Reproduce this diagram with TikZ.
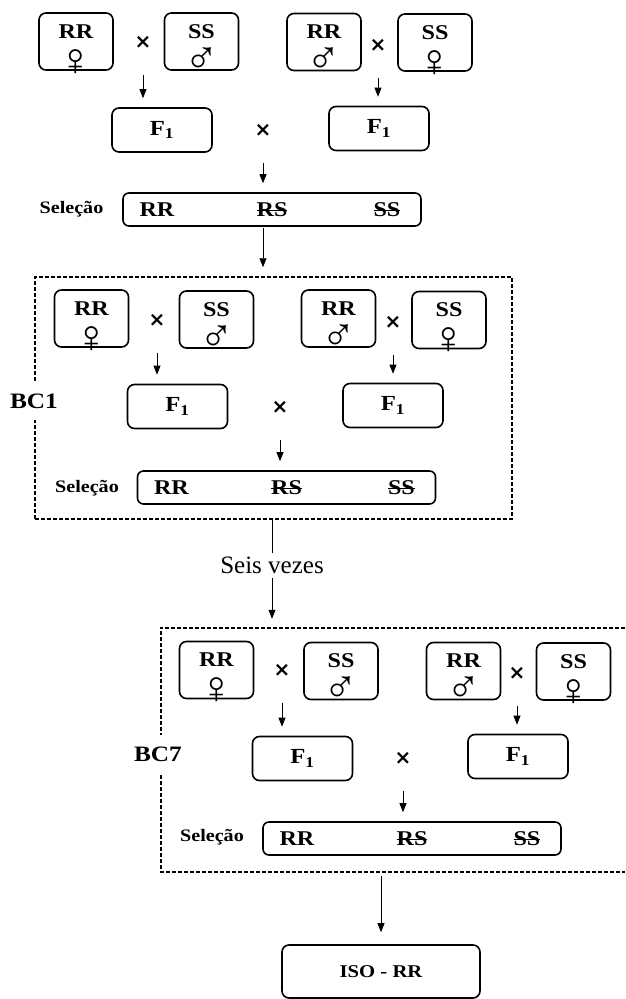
\documentclass[tikz,border=0pt]{standalone}
\usepackage{fontspec}
\usetikzlibrary{arrows.meta}

\setmainfont{Liberation Serif}
\newfontfamily\negrito{Liberation Serif}[FakeStretch=1.15]
\newfontfamily\simbolo{DejaVu Sans}

\newcommand{\femea}{\raisebox{-17pt}[0pt][0pt]{\rmfamily\mdseries\fontsize{46}{46}\selectfont ♀}}
\newcommand{\macho}{\raisebox{-15pt}[0pt][0pt]{\rmfamily\mdseries\fontsize{46}{46}\selectfont ♂}}
\newcommand{\riscado}[1]{\setbox0\hbox{#1}\rlap{\rule[0.25em]{\wd0}{1.3pt}}\box0}
\newcommand{\selecao}{\makebox[0pt]{\makebox[115pt]{RR}\makebox[115pt]{\riscado{RS}}\makebox[115pt]{\riscado{SS}}}}

\tikzset{
  pai/.style={draw, rounded corners=7pt, line width=1.6pt, minimum width=74pt, minimum height=57pt,
    inner sep=0pt, align=center, font=\negrito\bfseries\fontsize{21}{20}\selectfont},
  filho/.style={draw, rounded corners=7pt, line width=1.6pt, minimum width=100pt, minimum height=44pt,
    font=\negrito\bfseries\fontsize{21.5}{22}\selectfont},
  linha/.style={draw, rounded corners=6pt, line width=1.6pt, minimum width=298pt, minimum height=33pt,
    inner sep=0pt, font=\negrito\bfseries\fontsize{21}{22}\selectfont},
  vezes/.style={font=\simbolo\bfseries\fontsize{20}{20}\selectfont},
  rotulo/.style={font=\negrito\bfseries\fontsize{17.5}{18}\selectfont},
  geracao/.style={fill=white, inner xsep=1pt, inner ysep=12pt, font=\negrito\bfseries\fontsize{22}{22}\selectfont},
  tracejado/.style={dash pattern=on 4pt off 2pt, line width=1.5pt},
  flecha/.style={-{Triangle[length=9pt, width=7pt]}, line width=0.8pt, shorten <=23pt, shorten >=9pt},
}

\begin{document}
\begin{tikzpicture}[x=1pt, y=-1pt]
    \useasboundingbox (0,0) rectangle (625,999);

    % First crosses
    \node[pai] (a1) at (76,41.5)    {RR\\\femea};
    \node[vezes] (x1) at (143,42)   {×};
    \node[pai] (b1) at (201.5,41.5) {SS\\\macho};
    \node[pai] (c1) at (324,42)     {RR\\\macho};
    \node[vezes] (y1) at (378,45)   {×};
    \node[pai] (d1) at (435,42.5)   {SS\\\femea};

    \node[filho] (f1) at (162,130)  {F\textsubscript{1}};
    \node[vezes] (z1) at (263,130)  {×};
    \node[filho] (g1) at (379,128.5){F\textsubscript{1}};

    \node[rotulo] (l1) at (71.5,209) {Seleção};
    \node[linha] (s1) at (272,209.5) {\selecao};

    \draw[flecha] (x1) -- (x1 |- f1.north);
    \draw[flecha] (y1) -- (y1 |- g1.north);
    \draw[flecha] (z1) -- (z1 |- s1.north);

    % Backcross 1
    \node[draw, tracejado, minimum width=477pt, minimum height=242pt] (bc1) at (273.5,398) {};
    \node[geracao] (r1) at (34,401) {BC1};
    \draw[flecha, shorten <=1pt] (z1 |- s1.south) -- (z1 |- bc1.north);

    \node[pai] (a2) at (91.5,318.5)  {RR\\\femea};
    \node[vezes] (x2) at (157,320)   {×};
    \node[pai] (b2) at (216.5,319.5) {SS\\\macho};
    \node[pai] (c2) at (338.5,318.5) {RR\\\macho};
    \node[vezes] (y2) at (393,322)   {×};
    \node[pai] (d2) at (449,320)     {SS\\\femea};

    \node[filho] (f2) at (177.5,406.5) {F\textsubscript{1}};
    \node[vezes] (z2) at (280,407)     {×};
    \node[filho] (g2) at (393,405.5)   {F\textsubscript{1}};

    \node[rotulo] (l2) at (87,488)      {Seleção};
    \node[linha] (s2) at (286.5,487.5)  {\selecao};

    \draw[flecha] (x2) -- (x2 |- f2.north);
    \draw[flecha] (y2) -- (y2 |- g2.north);
    \draw[flecha] (z2) -- (z2 |- s2.north);

    % Repeated six times
    \node[font=\fontsize{25}{26}\selectfont] (sv) at (272,565) {Seis vezes};
    \draw[line width=0.8pt] (sv |- bc1.south) -- (sv.north);

    % Backcross 7
    \node[minimum width=464pt, minimum height=244pt] (bc7) at (393,750) {};
    \draw[tracejado] (bc7.north east) -| (bc7.south west) -- (bc7.south east);
    \node[geracao] (r7) at (158,754) {BC7};
    \draw[flecha, shorten <=1pt] (sv.south) -- (sv |- bc7.north);

    \node[pai] (a3) at (216.5,670)   {RR\\\femea};
    \node[vezes] (x3) at (282,670)   {×};
    \node[pai] (b3) at (341,671)     {SS\\\macho};
    \node[pai] (c3) at (463.5,671)   {RR\\\macho};
    \node[vezes] (y3) at (517,673)   {×};
    \node[pai] (d3) at (573.5,671.5) {SS\\\femea};

    \node[filho] (f3) at (302.5,758.5) {F\textsubscript{1}};
    \node[vezes] (z3) at (403,758)     {×};
    \node[filho] (g3) at (518,756.5)   {F\textsubscript{1}};

    \node[rotulo] (l3) at (212,837)    {Seleção};
    \node[linha] (s3) at (412,838.5)   {\selecao};

    \draw[flecha] (x3) -- (x3 |- f3.north);
    \draw[flecha] (y3) -- (y3 |- g3.north);
    \draw[flecha] (z3) -- (z3 |- s3.north);

    % Isogenic line
    \node[filho, minimum width=198pt, minimum height=53pt, font=\negrito\bfseries\fontsize{18}{19}\selectfont] (iso) at (381,971.5) {ISO - RR};
    \draw[flecha, shorten <=4pt, shorten >=12pt] (bc7.south -| iso) -- (iso.north);
\end{tikzpicture}
\end{document}
